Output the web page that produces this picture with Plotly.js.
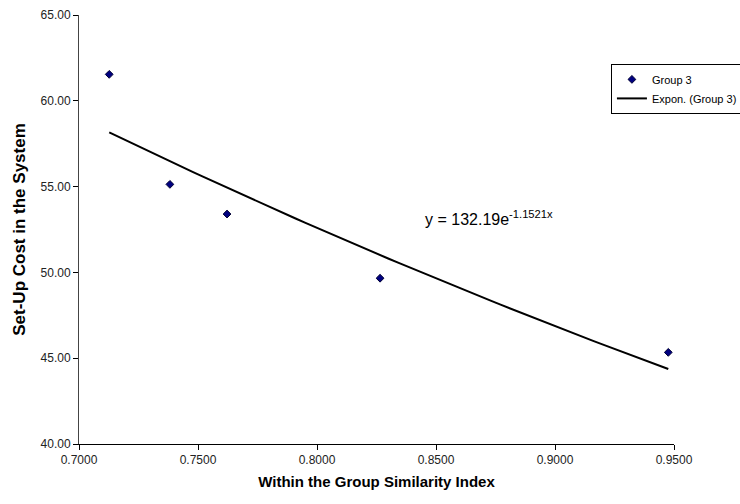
<!DOCTYPE html>
<html>
<head>
<meta charset="utf-8">
<script src="https://cdn.plot.ly/plotly-3.0.1.min.js"></script>
<style>html,body{margin:0;padding:0;background:#fff;}#chart{width:740px;height:504px;}</style>
</head>
<body>
<div id="chart"></div>
<script>
// Data
const similarityIndex = [0.7127, 0.7382, 0.7622, 0.8265, 0.9476];
const setUpCost = [61.54, 55.13, 53.40, 49.66, 45.34];
// Exponential trendline coefficients shown on the chart: y = a * e^(b x)
const trendA = 132.19;
const trendB = -1.1521;
const xTicks = [0.70, 0.75, 0.80, 0.85, 0.90, 0.95];
const yTicks = [40, 45, 50, 55, 60, 65];

const xMin = Math.min(...similarityIndex), xMax = Math.max(...similarityIndex);
const trendX = [], trendY = [];
for (let i = 0; i <= 60; i++) {
  const x = xMin + (xMax - xMin) * i / 60;
  trendX.push(x);
  trendY.push(trendA * Math.exp(trendB * x));
}

const font = 'Liberation Sans, Arial, sans-serif';
const traces = [
  {x: similarityIndex, y: setUpCost, mode: 'markers', type: 'scatter', name: 'Group 3',
   marker: {symbol: 'diamond', size: 6, color: '#000080', line: {color: '#000033', width: 1}}},
  {x: trendX, y: trendY, mode: 'lines', type: 'scatter', name: 'Expon. (Group 3)',
   line: {color: '#000000', width: 2}}
];
const layout = {
  width: 740, height: 504,
  margin: {l: 79, r: 66, t: 15, b: 60, autoexpand: false},
  paper_bgcolor: '#ffffff', plot_bgcolor: '#ffffff',
  font: {family: font, size: 11, color: '#000'},
  showlegend: true,
  legend: {x: 0.894, y: 0.886, xanchor: 'left', yanchor: 'top', bordercolor: '#000', borderwidth: 1,
           bgcolor: '#fff', font: {family: font, size: 11, color: '#000'}, tracegroupgap: 0,
           itemwidth: 30},
  xaxis: {range: [0.70, 0.95], tickvals: xTicks, ticktext: xTicks.map(v => v.toFixed(4)),
          showgrid: false, zeroline: false, showline: true, linecolor: '#000', linewidth: 1,
          ticks: 'outside', ticklen: 5, tickcolor: '#000',
          tickfont: {family: font, size: 12, color: '#222'},
          title: {text: 'Within the Group Similarity Index', font: {family: font, size: 15, color: '#000', weight: 'bold'}, standoff: 10}},
  yaxis: {range: [40, 65], tickvals: yTicks, ticktext: yTicks.map(v => v.toFixed(2)),
          showgrid: false, zeroline: false, showline: true, linecolor: '#444', linewidth: 1,
          ticks: 'outside', ticklen: 5, tickcolor: '#000',
          tickfont: {family: font, size: 12, color: '#222'},
          title: {text: 'Set-Up Cost in the System', font: {family: font, size: 17, color: '#000', weight: 'bold'}, standoff: 10}},
  annotations: [{x: 0.8445, y: 53.15, xref: 'x', yref: 'y', xanchor: 'left', yanchor: 'middle', showarrow: false,
                 text: 'y = ' + trendA.toFixed(2) + 'e<sup>' + trendB.toFixed(4) + 'x</sup>',
                 font: {family: font, size: 16, color: '#000'}}]
};
Plotly.newPlot('chart', traces, layout, {displayModeBar: false, staticPlot: true});
</script>
</body>
</html>
